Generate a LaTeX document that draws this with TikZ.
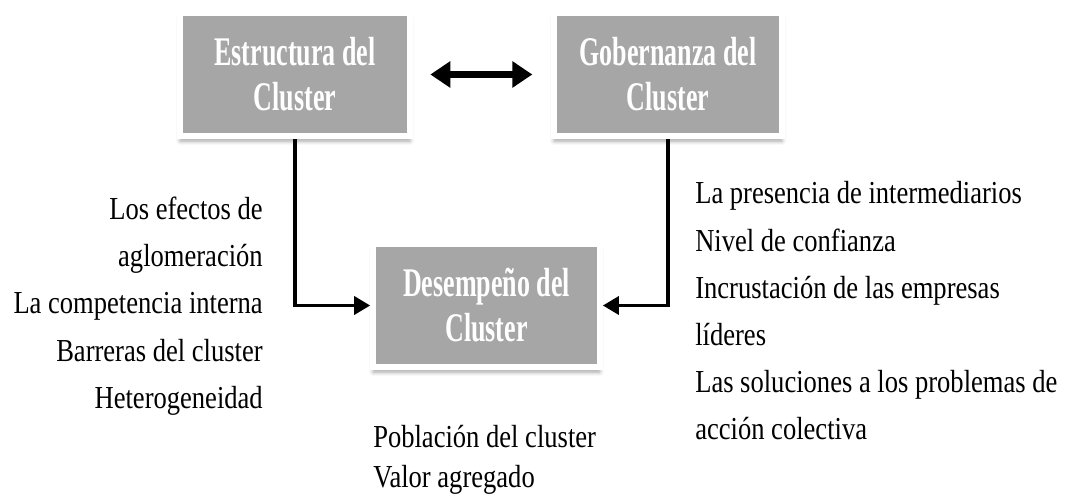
\documentclass[tikz,border=0pt]{standalone}
\usepackage{fontspec}
\setmainfont{Liberation Serif}
\newfontfamily\bodyfont[FakeStretch=0.83]{Liberation Serif}
\newfontfamily\boxfont[FakeStretch=0.64]{Liberation Serif}
\usepackage{tikz}
\usetikzlibrary{arrows.meta,shadows.blur}
\definecolor{boxgray}{HTML}{A6A6A6}

\begin{document}
\begin{tikzpicture}[x=0.75pt,y=-0.75pt]
\tikzstyle{block}=[rectangle,fill=boxgray,draw=white,line width=4.5pt,inner sep=0,
  minimum height=92pt,align=center,text=white,
  font=\boxfont\bfseries\fontsize{30.5}{33.75}\selectfont,
  blur shadow={shadow xshift=0pt,shadow yshift=-4pt,shadow blur radius=3pt,shadow opacity=35}]
\tikzstyle{items}=[inner sep=0,font=\bodyfont\fontsize{24}{35.4}\selectfont]
\tikzstyle{link}=[line width=2.6pt,-{Triangle[length=12pt,width=13.5pt]}]
\useasboundingbox (0,0) rectangle (1077,502);
\node[block,minimum width=172.5pt] (estr) at (295,74.5) {Estructura del\\Cluster};
\node[block,minimum width=171pt] (gob) at (668,74.5) {Gobernanza del\\Cluster};
\node[block,minimum width=170pt] (des) at (486.5,305.5) {Desempeño del\\Cluster};
\node[items,anchor=east,align=right] (left) at (263,306)
  {Los efectos de\\aglomeración\\La competencia interna\\Barreras del cluster\\Heterogeneidad};
\node[items,anchor=west,align=left] (right) at (695,311)
  {La presencia de intermediarios\\Nivel de confianza\\Incrustación de las empresas\\líderes\\Las soluciones a los problemas de\\acción colectiva};
\node[items,anchor=west,align=left,font=\bodyfont\fontsize{24}{30}\selectfont] (bottom) at (373,460)
  {Población del cluster\\Valor agregado};
\draw[line width=5pt,{Triangle[length=15pt,width=19pt]}-{Triangle[length=15pt,width=19pt]},
  shorten <=13pt,shorten >=14pt] (estr) -- (gob);
\draw[link] (estr.south) |- (des.west);
\draw[link] (gob.south) |- (des.east);
\end{tikzpicture}
\end{document}
